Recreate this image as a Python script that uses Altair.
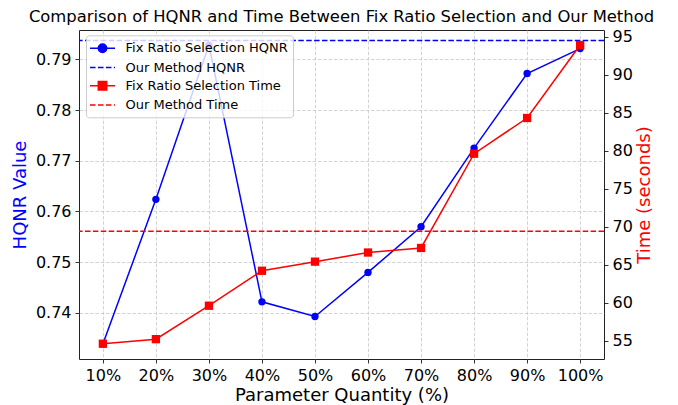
import altair as alt
import pandas as pd

# ---- data ----
pct = [10, 20, 30, 40, 50, 60, 70, 80, 90, 100]
hqnr = [0.7339, 0.7624, 0.7928, 0.7422, 0.7393, 0.7480, 0.7570, 0.7725, 0.7872, 0.7921]
time_s = [54.6, 55.2, 59.6, 64.2, 65.4, 66.6, 67.2, 79.6, 84.3, 93.9]
our_hqnr = [0.7937]
our_time = [69.4]
series = ["Fix Ratio Selection HQNR", "Our Method HQNR",
          "Fix Ratio Selection Time", "Our Method Time"]
hqnr_ticks = [0.74, 0.75, 0.76, 0.77, 0.78, 0.79]
time_ticks = [55, 60, 65, 70, 75, 80, 85, 90, 95]

BLUE = "#0000ff"
RED = "#ff0000"
FONT = "DejaVu Sans"
DASH = [5.5, 2.4]

df = pd.DataFrame({"pct": pct, "hqnr": hqnr, "time": time_s})
df_oh = pd.DataFrame({"v": our_hqnr})
df_ot = pd.DataFrame({"v": our_time})
df_leg = pd.DataFrame({"series": series})

x = alt.X("pct:Q",
          scale=alt.Scale(domain=[5.5, 104.5], nice=False, zero=False),
          axis=alt.Axis(values=pct, labelExpr="datum.value + '%'",
                        title="Parameter Quantity (%)", grid=True,
                        titlePadding=3))

yl_scale = alt.Scale(domain=[0.73093, 0.79577], nice=False, zero=False)
yr_scale = alt.Scale(domain=[52.59, 95.88], nice=False, zero=False)
yl_axis = alt.Axis(orient="left", values=hqnr_ticks, format=".2f",
                   title="HQNR Value", titleColor=BLUE, grid=True, titlePadding=6)
yr_axis = alt.Axis(orient="right", values=time_ticks, format="d",
                   title="Time (seconds)", titleColor=RED, grid=False,
                   titleAngle=270, titleBaseline="top", titlePadding=3)

blue_line = alt.Chart(df).mark_line(color=BLUE, strokeWidth=1.5).encode(
    x=x, y=alt.Y("hqnr:Q", scale=yl_scale, axis=yl_axis))
blue_pts = alt.Chart(df).mark_circle(color=BLUE, size=54, opacity=1).encode(
    x=x, y=alt.Y("hqnr:Q", scale=yl_scale, axis=yl_axis))
blue_rule = alt.Chart(df_oh).mark_rule(color=BLUE, strokeWidth=1.5, strokeDash=DASH).encode(
    y=alt.Y("v:Q", scale=yl_scale, axis=yl_axis))

red_line = alt.Chart(df).mark_line(color=RED, strokeWidth=1.5).encode(
    x=x, y=alt.Y("time:Q", scale=yr_scale, axis=yr_axis))
red_pts = alt.Chart(df).mark_square(color=RED, size=69, opacity=1).encode(
    x=x, y=alt.Y("time:Q", scale=yr_scale, axis=yr_axis))
red_rule = alt.Chart(df_ot).mark_rule(color=RED, strokeWidth=1.5, strokeDash=DASH).encode(
    y=alt.Y("v:Q", scale=yr_scale, axis=yr_axis))

# legend symbols: line + marker, dashed line
P_CIRCLE = "M-1.786,0L1.786,0M0.6,0A0.6,0.6,0,1,1,-0.6,0A0.6,0.6,0,1,1,0.6,0Z"
P_DASH = "M-1.786,0L-0.993,0M-0.65,0L0.143,0M0.486,0L1.279,0M1.621,0L1.786,0"
P_SQUARE = "M-1.786,0L1.786,0M-0.6,-0.6L0.6,-0.6L0.6,0.6L-0.6,0.6Z"

leg = alt.Legend(title=None, orient="none", legendX=7, legendY=5.3,
                 symbolSize=196, symbolStrokeWidth=1.5, symbolOpacity=1,
                 labelFont=FONT, labelFontSize=13, labelColor="black",
                 padding=5, rowPadding=3.2, labelOffset=15, symbolOffset=3.5,
                 fillColor="rgba(255,255,255,0.8)", strokeColor="#cccccc",
                 cornerRadius=3, labelLimit=400)
colors = [BLUE, BLUE, RED, RED]
carrier = alt.Chart(df_leg).mark_point(size=196, strokeWidth=1.5, opacity=1, clip=True).encode(
    x=alt.value(-50), y=alt.value(-50),
    shape=alt.Shape("series:N", scale=alt.Scale(domain=series, range=[P_CIRCLE, P_DASH, P_SQUARE, P_DASH]), legend=leg),
    fill=alt.Fill("series:N", scale=alt.Scale(domain=series, range=colors), legend=leg),
    stroke=alt.Stroke("series:N", scale=alt.Scale(domain=series, range=colors), legend=leg),
)

left = alt.layer(blue_line, blue_pts, blue_rule)
right = alt.layer(red_line, red_pts, red_rule)

chart = alt.layer(left, right, carrier).resolve_scale(y="independent").properties(
    width=525, height=329,
    padding={"left": 71, "top": 22, "right": 66, "bottom": 46},
    autosize=alt.AutoSizeParams(type="none"),
    title=alt.Title("Comparison of HQNR and Time Between Fix Ratio Selection and Our Method",
                    font=FONT, fontSize=16.4, fontWeight="normal", color="black",
                    offset=3, anchor="middle", frame="group"),
).configure_view(stroke="#222222", strokeWidth=1).configure_axis(
    domain=False, tickColor="black", tickSize=4, tickWidth=0.8,
    labelFont=FONT, labelFontSize=16, labelColor="black", labelPadding=4,
    titleFont=FONT, titleFontSize=18, titleFontWeight="normal", titleColor="black",
    gridColor="#c8c8c8", gridDash=[3.5, 1.8], gridWidth=0.8,
).configure_legend(strokeWidth=1)

chart.save("out.html", embed_options={"renderer": "svg", "actions": False})
